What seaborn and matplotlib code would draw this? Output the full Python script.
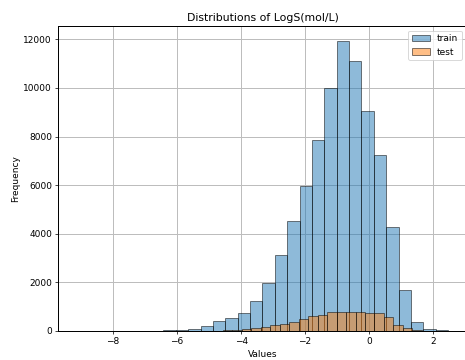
import numpy as np
import pandas as pd
import matplotlib
matplotlib.use("Agg")
import matplotlib.pyplot as plt
import seaborn as sns

# bin layout (30 bins each)
train_start, train_width = -9.134, 0.3868
test_start, test_width = -6.933, 0.296

train_counts = [2, 3, 2, 4, 5, 8, 15, 25, 50, 90,
                205, 400, 520, 725, 1235, 1975, 3140, 4520, 5960, 7840,
                10000, 11950, 11100, 9070, 7260, 4280, 1700, 385, 95, 25]
test_counts = [1, 2, 2, 3, 4, 6, 8, 12, 25, 30,
               68, 110, 165, 235, 285, 380, 480, 610, 670, 770,
               770, 795, 795, 740, 740, 560, 235, 110, 20, 3]

train_edges = train_start + train_width * np.arange(len(train_counts) + 1)
test_edges = test_start + test_width * np.arange(len(test_counts) + 1)

train = pd.DataFrame({"x": (train_edges[:-1] + train_edges[1:]) / 2, "n": train_counts})
test = pd.DataFrame({"x": (test_edges[:-1] + test_edges[1:]) / 2, "n": test_counts})

fig = plt.figure(figsize=(465 / 65, 360 / 65), dpi=65)
ax = fig.add_axes([0.1254, 0.0806, 0.878, 0.8472])

sns.histplot(data=train, x="x", weights="n", bins=list(train_edges), color="C0", alpha=0.5,
             edgecolor=(0, 0, 0, 0.55), linewidth=1, label="train", ax=ax)
sns.histplot(data=test, x="x", weights="n", bins=list(test_edges), color="C1", alpha=0.5,
             edgecolor=(0, 0, 0, 0.55), linewidth=1, label="test", ax=ax)

ax.grid(True, color="#bdbdbd", linewidth=1.1)
ax.set_axisbelow(True)
for s in ax.spines.values():
    s.set_linewidth(1.1)
ax.set_title("Distributions of LogS(mol/L)")
ax.set_xlabel("Values")
ax.set_ylabel("Frequency")
ax.legend(loc="upper right")

fig.savefig("out.png", dpi=65)
